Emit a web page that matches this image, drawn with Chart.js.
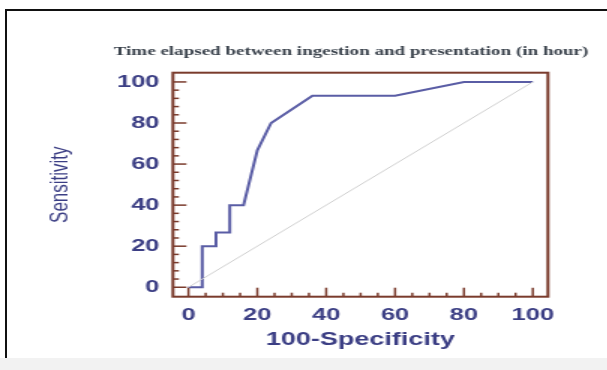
<!DOCTYPE html>
<html>
<head>
<meta charset="utf-8">
<script src="https://cdn.jsdelivr.net/npm/chart.js@4/dist/chart.umd.min.js"></script>
<style>
  html, body { margin: 0; padding: 0; background: #fff; }
  #page { position: relative; width: 607px; height: 370px; overflow: hidden; background: #fff; }
  #border { position: absolute; left: 5px; top: 9px; width: 620px; height: 347px;
            border-top: 2px solid #111; border-left: 2px solid #111; }
  #strip { position: absolute; left: 0; top: 358px; width: 607px; height: 12px; background: #f2f2f2; }
  /* the picture is stretched sideways, so draw narrow and scale up */
  #roc { position: absolute; left: 0; top: 0; transform: scaleX(1.5); transform-origin: 0 0; }
</style>
</head>
<body>
<div id="page">
  <div id="border"></div>
  <div id="strip"></div>
  <canvas id="roc" width="405" height="370"></canvas>
</div>
<script>
// ! data
const title = "Time elapsed between ingestion and presentation (in hour)";
const fpr = [0, 4, 4, 8, 8, 12, 12, 16, 20, 24, 36, 60, 80, 100];
const tpr = [0, 0, 20, 20, 26.7, 26.7, 40, 40, 66.7, 80, 93.3, 93.3, 100, 100];
const diagX = [0, 100];
const diagY = [0, 100];
const xTicks = [0, 20, 40, 60, 80, 100];
const yTicks = [0, 20, 40, 60, 80, 100];

const navy = "#3b3e84";
const brown = "#7a3b2c";

// box round the plot + inward ticks (minor every 5 on x, every 4 on y)
const boxPlugin = {
  id: "box",
  afterDatasetsDraw(chart) {
    const { ctx, chartArea: a, scales } = chart;
    ctx.save();
    ctx.strokeStyle = brown;
    ctx.lineWidth = 1.5;
    for (let v = 0; v <= 100; v += 5) {
      const x = scales.x.getPixelForValue(v);
      const len = v % 20 === 0 ? 9 : 4;
      ctx.beginPath();
      ctx.moveTo(x, a.bottom);
      ctx.lineTo(x, a.bottom - len);
      ctx.stroke();
    }
    for (let v = 0; v <= 100; v += 4) {
      const y = scales.y.getPixelForValue(v);
      const len = v % 20 === 0 ? 9 : 4;
      ctx.beginPath();
      ctx.moveTo(a.left, y);
      ctx.lineTo(a.left + len, y);
      ctx.stroke();
    }
    ctx.lineWidth = 2;
    ctx.strokeRect(a.left, a.top, a.right - a.left, a.bottom - a.top);
    ctx.restore();
  },
  afterDraw(chart) {
    const { ctx } = chart;
    ctx.save();
    ctx.fillStyle = "#3a424c";
    ctx.font = "bold 12.7px 'Liberation Serif'";
    ctx.textAlign = "center";
    ctx.textBaseline = "middle";
    ctx.fillText(title, 234, 52);
    ctx.restore();
  },
};

const ctx = document.getElementById("roc");

new Chart(ctx, {
  type: "scatter",
  data: {
    datasets: [
      {
        label: "diagonal",
        data: diagX.map((x, i) => ({ x: x, y: diagY[i] })),
        showLine: true,
        borderColor: "#cfcfcf",
        borderWidth: 1,
        pointRadius: 0,
      },
      {
        label: "ROC",
        data: fpr.map((x, i) => ({ x: x, y: tpr[i] })),
        showLine: true,
        borderColor: "#5a5da5",
        borderWidth: 2,
        pointRadius: 0,
        tension: 0,
      },
    ],
  },
  options: {
    responsive: false,
    animation: false,
    devicePixelRatio: 1,
    layout: { padding: { top: 72.7, right: 39.7, bottom: 0, left: 0 } },
    plugins: {
      legend: { display: false },
      tooltip: { enabled: false },
    },
    scales: {
      x: {
        type: "linear",
        min: -4.5,
        max: 104.4,
        afterFit: (s) => { s.height = 73.3; },
        afterBuildTicks: (s) => { s.ticks = xTicks.map((v) => ({ value: v })); },
        grid: { display: false, drawTicks: false },
        border: { display: false },
        ticks: {
          color: navy,
          padding: 8,
          maxRotation: 0,
          font: { family: "'Liberation Sans'", size: 17, weight: "bold" },
        },
        title: {
          display: true,
          text: "100-Specificity",
          color: navy,
          padding: { top: 0, bottom: 19 },
          font: { family: "'Liberation Sans'", size: 18, weight: "bold" },
        },
      },
      y: {
        type: "linear",
        min: -4.6,
        max: 104.5,
        afterFit: (s) => { s.width = 115.3; },
        afterBuildTicks: (s) => { s.ticks = yTicks.map((v) => ({ value: v })); },
        grid: { display: false, drawTicks: false },
        border: { display: false },
        ticks: {
          color: navy,
          padding: 9,
          font: { family: "'Liberation Sans'", size: 17, weight: "bold" },
        },
        title: {
          display: true,
          text: "Sensitivity",
          color: navy,
          padding: { top: 30, bottom: 0 },
          font: { family: "'Liberation Sans'", size: 17 },
        },
      },
    },
  },
  plugins: [boxPlugin],
});
</script>
</body>
</html>
